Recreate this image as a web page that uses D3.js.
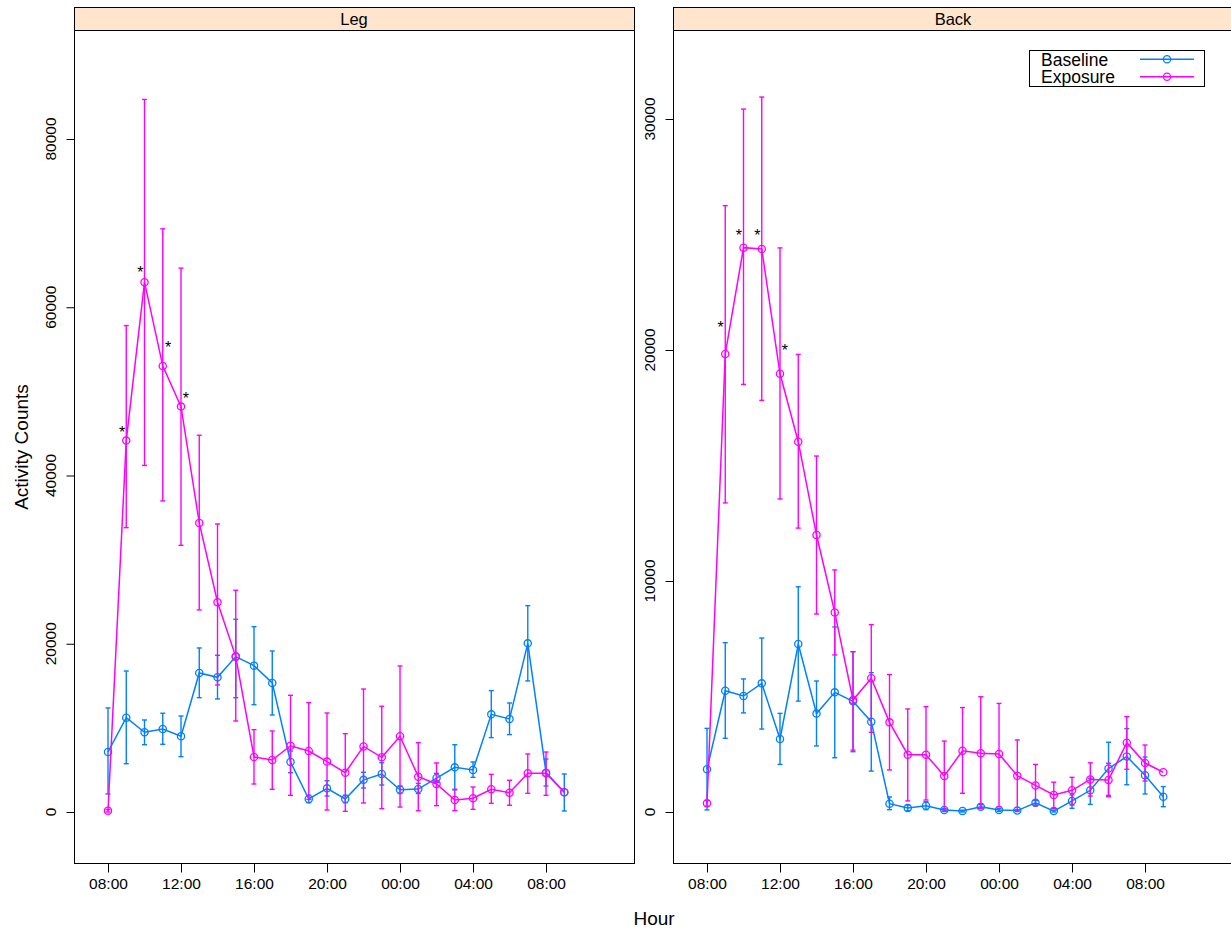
<!DOCTYPE html>
<html><head><meta charset="utf-8">
<script src="https://cdn.jsdelivr.net/npm/d3@7"></script>
<style>body{margin:0;background:#fff}svg{display:block;font-family:"Liberation Sans",Arial,sans-serif}</style>
</head><body><svg id="c" width="1231" height="932"></svg>
<script>
const hours = d3.range(8, 34);
const tickHours = [8, 12, 16, 20, 24, 28, 32];
const tickLabels = ["08:00", "12:00", "16:00", "20:00", "00:00", "04:00", "08:00"];
const seriesNames = ["Baseline", "Exposure"];
const seriesColors = ["#0080ff", "#ff00ff"];

// Leg panel
const legBaseMean = [7130,11210,9480,9870,9000,16530,16010,18470,17400,15340,5950,1550,2810,1550,3820,4520,2650,2730,4040,5310,4990,11610,11060,20050,4680,2340];
const legBaseLo   = [2140,5740,8000,8050,6580,13590,13440,13590,12760,11530,4670,1100,1900,1100,2850,3210,2200,2200,3500,2620,4120,8840,9200,15580,3090,120];
const legBaseHi   = [12370,16760,10940,11740,11410,19500,18630,22910,22030,19140,7250,2000,3720,2000,4720,5860,3100,3400,4600,8000,5950,14430,12960,24530,6300,4520];
const legExpMean  = [150,44150,62980,53030,48190,34360,24930,18470,6540,6180,7880,7250,5990,4680,7800,6500,9000,4200,3330,1430,1630,2700,2300,4600,4600,2340];
const legExpLo    = [0,33800,41200,36980,31700,24020,15100,10820,3330,2700,1980,1500,240,80,1070,400,590,160,750,160,320,1030,800,2220,1980,2340];
const legExpHi    = [300,57820,84700,69320,64650,44790,34240,26360,9790,9630,13870,13000,11770,9310,14620,12570,17360,8240,5830,2700,2970,4480,3770,6900,7130,2340];
const legStarHours = [8.78, 9.77, 11.29, 12.27];
const legStarVals  = [45540, 64600, 55610, 49580];
const legYTicks = [0, 20000, 40000, 60000, 80000];

// Back panel
const backBaseMean = [1850,5250,5020,5570,3160,7270,4260,5180,4790,3910,360,170,270,90,40,230,90,60,400,40,480,940,1880,2400,1590,660];
const backBaseLo   = [90,3190,4290,3590,2060,4800,2860,2350,2610,1770,100,50,100,30,0,150,30,20,300,0,160,330,720,1180,780,230];
const backBaseHi   = [3620,7330,5760,7530,4270,9750,5670,8010,6940,6030,650,300,450,150,80,320,150,100,500,80,740,1460,3020,3610,2380,1100];
const backExpMean  = [380,19830,24430,24370,18970,16030,11990,8640,4850,5790,3880,2480,2480,1560,2650,2540,2510,1570,1150,740,940,1410,1390,3000,2120,1720];
const backExpLo    = [250,13380,18510,17820,13550,12290,8570,6800,2680,3450,1820,480,520,90,810,160,230,90,270,160,300,690,660,1850,1340,1720];
const backExpHi    = [500,26250,30430,30950,24420,19810,15410,10480,6940,8110,5950,4460,4560,3070,4520,4990,4700,3120,2060,1290,1500,2130,2110,4130,2900,1720];
const backStarHours = [8.75, 9.75, 10.76, 12.26];
const backStarVals  = [21130, 25120, 25120, 20130];
const backYTicks = [0, 10000, 20000, 30000];

const panels = [
  {title: "Leg", x0: 74, yDom: [-6062, 92957], yTicks: legYTicks,
   series: [[legBaseMean, legBaseLo, legBaseHi], [legExpMean, legExpLo, legExpHi]],
   starH: legStarHours, starV: legStarVals},
  {title: "Back", x0: 673, yDom: [-2208, 33853], yTicks: backYTicks,
   series: [[backBaseMean, backBaseLo, backBaseHi], [backExpMean, backExpLo, backExpHi]],
   starH: backStarHours, starV: backStarVals}
];

const svg = d3.select("#c");
const PW = 560, PT = 30, PB = 863, ST = 7;
const xDom = [6.137, 36.82];

panels.forEach((p, pi) => {
  const x = d3.scaleLinear().domain(xDom).range([p.x0, p.x0 + PW]);
  const y = d3.scaleLinear().domain(p.yDom).range([PB, PT]);
  const g = svg.append("g");
  const clipId = "clip" + pi;
  svg.append("clipPath").attr("id", clipId).append("rect")
    .attr("x", p.x0).attr("y", PT).attr("width", PW).attr("height", PB - PT);

  // strip
  g.append("rect").attr("x", p.x0 + 0.5).attr("y", ST + 0.5).attr("width", PW).attr("height", PT - ST)
    .attr("fill", "#ffe5cc").attr("stroke", "#000");
  g.append("text").attr("x", p.x0 + PW / 2).attr("y", 25).attr("text-anchor", "middle")
    .attr("font-size", 16.5).text(p.title);

  // axes
  const yAxis = d3.axisLeft(y).tickValues(p.yTicks).tickSize(8).tickPadding(0).tickFormat(d3.format("d"));
  const ya = g.append("g").attr("transform", `translate(${p.x0 + 0.5},0)`).call(yAxis);
  ya.select(".domain").remove();
  ya.selectAll("text").remove();
  ya.selectAll(".tick line").attr("stroke", "#000");
  g.selectAll(".ylab" + pi).data(p.yTicks).join("text")
    .attr("transform", d => `translate(${p.x0 - 18},${y(d)}) rotate(-90)`)
    .attr("text-anchor", "middle").attr("font-size", 15.5).text(d => d3.format("d")(d));

  const xAxis = d3.axisBottom(x).tickValues(tickHours).tickSize(9).tickPadding(5)
    .tickFormat((d, i) => tickLabels[i]);
  const xa = g.append("g").attr("transform", `translate(0,${PB + 0.5})`).call(xAxis);
  xa.select(".domain").remove();
  xa.selectAll(".tick line").attr("stroke", "#000");
  xa.selectAll("text").attr("font-size", 15.5).attr("fill", "#000")
    .attr("font-family", '"Liberation Sans",Arial,sans-serif');

  // panel border
  g.append("rect").attr("x", p.x0 + 0.5).attr("y", PT + 0.5).attr("width", PW).attr("height", PB - PT)
    .attr("fill", "none").attr("stroke", "#000");

  const dg = g.append("g").attr("clip-path", `url(#${clipId})`);
  p.series.forEach((s, si) => {
    const [m, lo, hi] = s;
    const col = seriesColors[si];
    const pts = hours.map((h, i) => ({h, m: m[i], lo: lo[i], hi: hi[i]}));
    // error bars
    const eb = dg.append("g").attr("stroke", col).attr("stroke-width", 1.4).attr("fill", "none");
    pts.filter(d => d.hi > d.lo).forEach(d => {
      const xx = x(d.h);
      eb.append("line").attr("x1", xx).attr("x2", xx).attr("y1", y(d.lo)).attr("y2", y(d.hi));
      eb.append("line").attr("x1", xx - 2.5).attr("x2", xx + 2.5).attr("y1", y(d.lo)).attr("y2", y(d.lo));
      eb.append("line").attr("x1", xx - 2.5).attr("x2", xx + 2.5).attr("y1", y(d.hi)).attr("y2", y(d.hi));
    });
    dg.append("path").datum(pts)
      .attr("d", d3.line().x(d => x(d.h)).y(d => y(d.m)))
      .attr("fill", "none").attr("stroke", col).attr("stroke-width", 1.5);
    dg.selectAll(null).data(pts).join("circle")
      .attr("cx", d => x(d.h)).attr("cy", d => y(d.m)).attr("r", 3.6)
      .attr("fill", "none").attr("stroke", col).attr("stroke-width", 1.3);
  });
  // significance stars
  dg.selectAll(null).data(p.starH.map((h, i) => ({h, v: p.starV[i]}))).join("text")
    .attr("x", d => x(d.h)).attr("y", d => y(d.v) + 9).attr("text-anchor", "middle")
    .attr("font-size", 16).attr("fill", "#000").text("*");
});

// axis titles
svg.append("text").attr("transform", "translate(28,447) rotate(-90)").attr("text-anchor", "middle")
  .attr("font-size", 19).text("Activity Counts");
svg.append("text").attr("x", 654).attr("y", 925).attr("text-anchor", "middle")
  .attr("font-size", 19).text("Hour");

// legend
const lg = svg.append("g");
lg.append("rect").attr("x", 1029.5).attr("y", 50.5).attr("width", 175).attr("height", 36)
  .attr("fill", "#fff").attr("stroke", "#000");
const legendY = d3.scalePoint().domain(seriesNames).range([59.3, 76.7]);
seriesNames.forEach((n, i) => {
  const yy = legendY(n);
  lg.append("text").attr("x", 1041).attr("y", yy + 6.3).attr("font-size", 17.5).text(n);
  lg.append("line").attr("x1", 1140).attr("x2", 1194).attr("y1", yy).attr("y2", yy)
    .attr("stroke", seriesColors[i]).attr("stroke-width", 1.5);
  lg.append("circle").attr("cx", 1167).attr("cy", yy).attr("r", 3.6)
    .attr("fill", "none").attr("stroke", seriesColors[i]).attr("stroke-width", 1.3);
});
</script></body></html>
